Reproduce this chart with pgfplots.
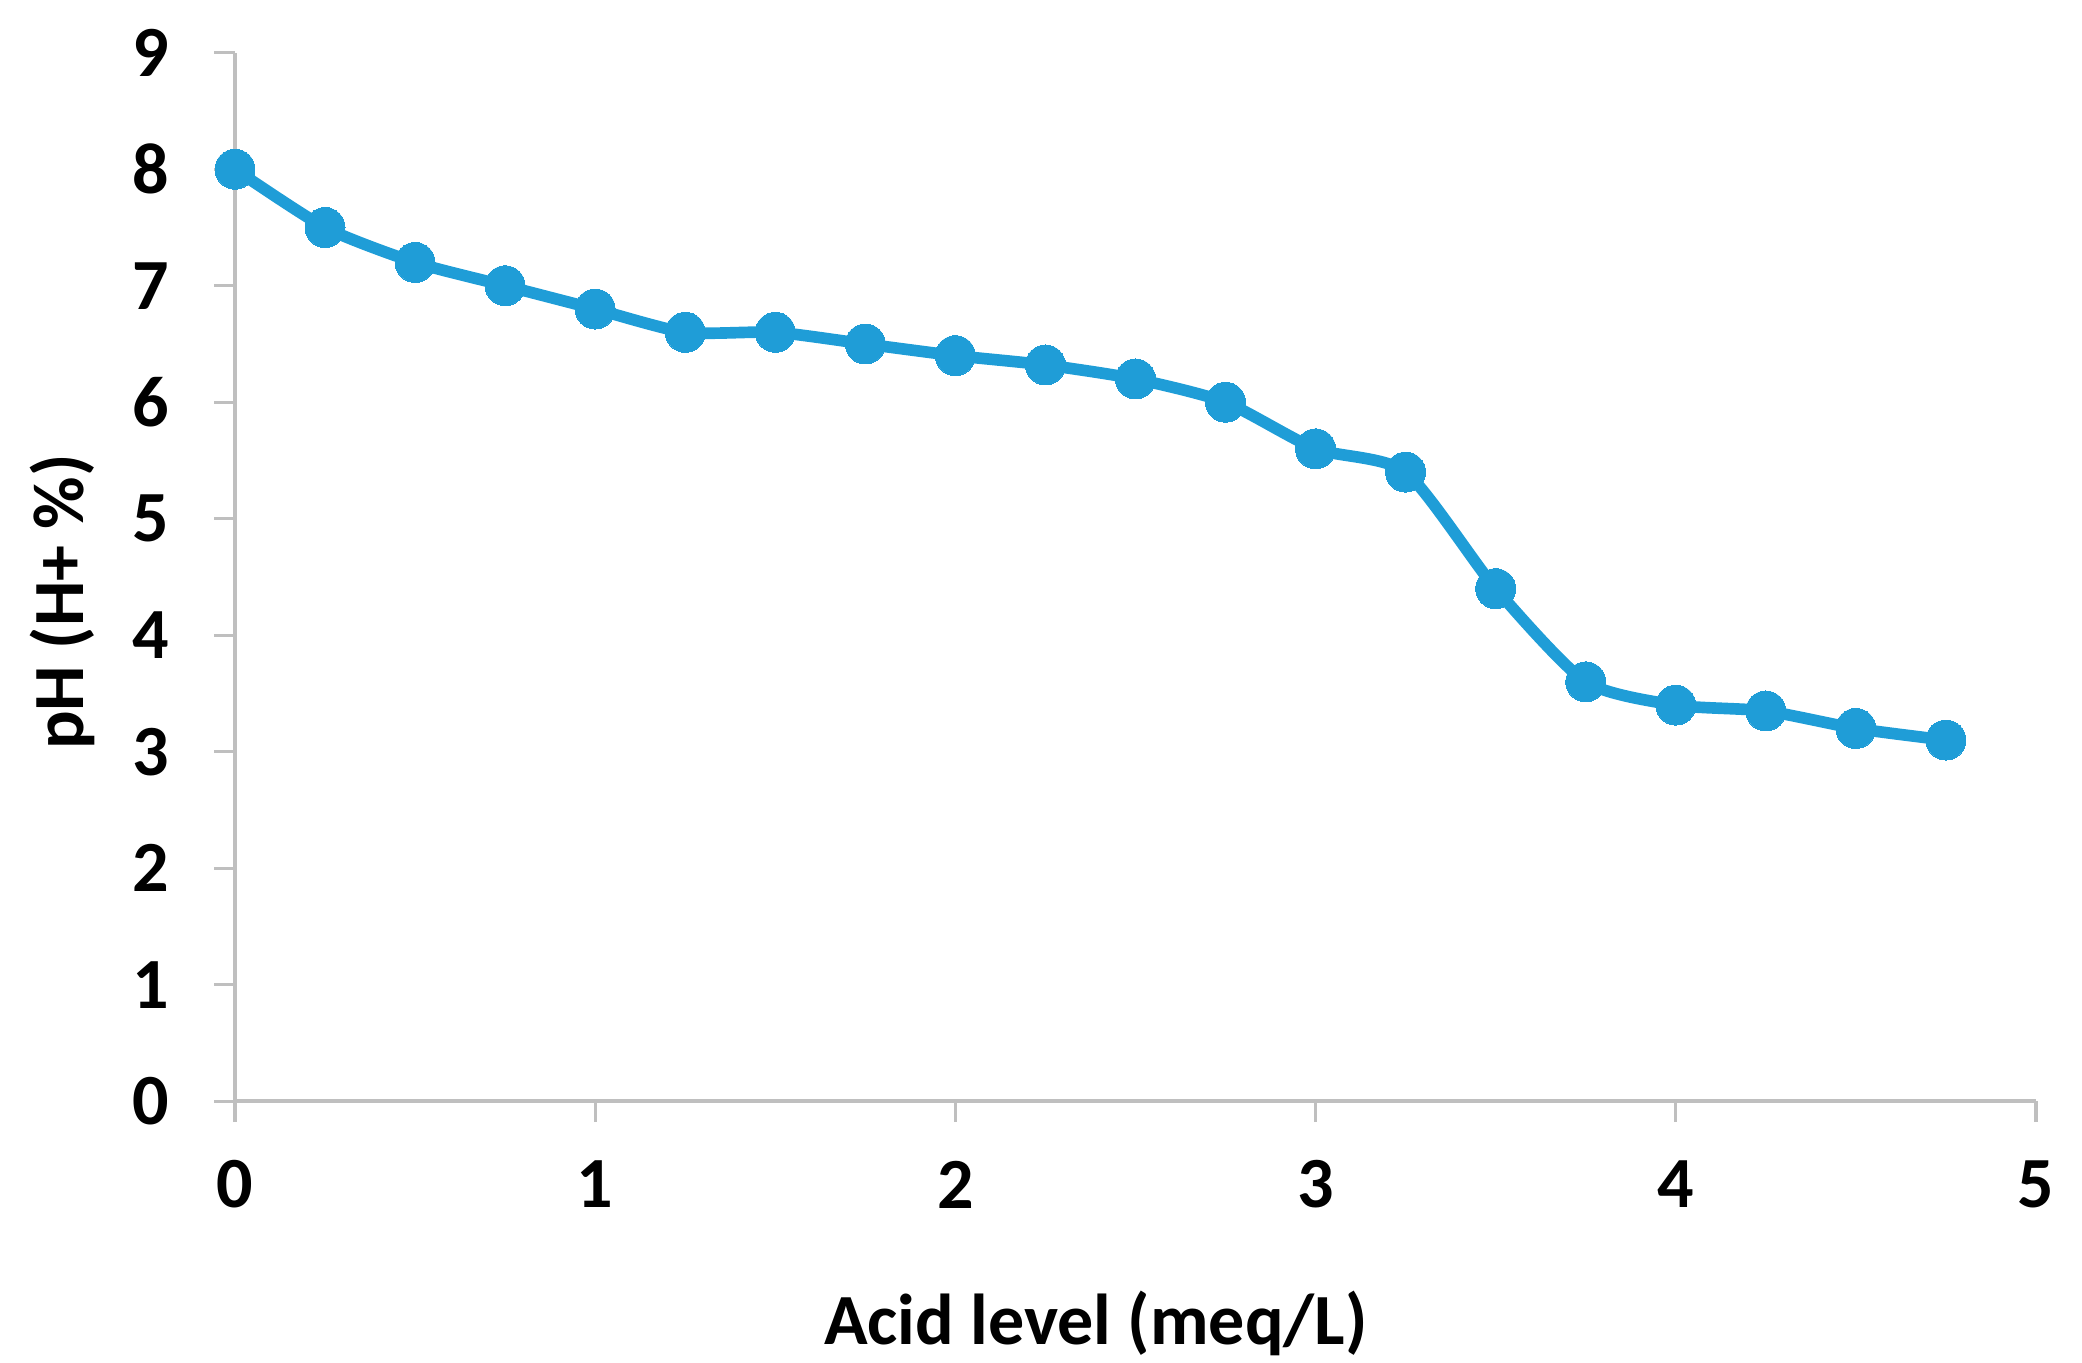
\documentclass[border=0pt]{standalone}
\usepackage{pgfplots}
\pgfplotsset{compat=1.18}
\usepackage{fontspec}
\setmainfont{Carlito}
\definecolor{lineblue}{RGB}{31,157,215}
\definecolor{axgray}{RGB}{191,191,191}
\begin{document}
\begin{tikzpicture}
\path[use as bounding box] (-56.44pt,-62.68pt) rectangle (443.56pt,264.46pt);
\begin{axis}[
  scale only axis,
  width=432.5pt, height=251.8pt,
  xmin=0, xmax=5, ymin=0, ymax=9,
  xtick={0,1,2,3,4,5}, ytick={0,1,...,9},
  axis x line*=bottom, axis y line*=left,
  axis line style={axgray, line width=1pt, -},
  tick style={axgray, line width=0.8pt},
  tick align=outside, major tick length=5pt,
  /pgf/number format/assume math mode=true,
  ticklabel style={font=\fontsize{17.3}{20}\selectfont\bfseries, inner sep=0pt},
  xticklabel style={anchor=center},
  yticklabel style={anchor=east},
  xticklabel shift=15pt,
  yticklabel shift=10.6pt,
  xlabel={Acid level (meq/L)},
  ylabel={pH (H+ \%)},
  label style={font=\fontsize{17.3}{20}\selectfont\bfseries},
  xlabel style={at={(axis description cs:0.478,-0.212)}, anchor=center},
  ylabel style={at={(axis description cs:-0.0957,0.476)}, anchor=center},
  clip=false,
]
\addplot[lineblue, line width=2.8pt, smooth, tension=0.4, mark=*, mark size=4.8pt, mark options={fill=lineblue, draw=lineblue, line width=0pt}]
coordinates {
(0,8.0) (0.25,7.5) (0.5,7.2) (0.75,7.0) (1.0,6.8) (1.25,6.6) (1.5,6.6)
(1.75,6.5) (2.0,6.4) (2.25,6.32) (2.5,6.2) (2.75,6.0) (3.0,5.6) (3.25,5.4)
(3.5,4.4) (3.75,3.6) (4.0,3.4) (4.25,3.35) (4.5,3.2) (4.75,3.1)
};
\end{axis}
\end{tikzpicture}
\end{document}
